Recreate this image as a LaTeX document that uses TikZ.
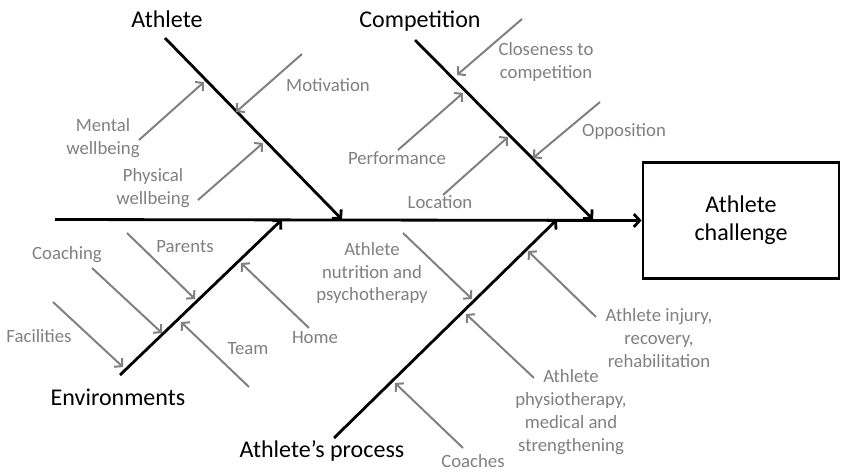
\documentclass[tikz,border=0pt]{standalone}
\usepackage{fontspec}
\setmainfont{Carlito}
\usetikzlibrary{arrows.meta, positioning}
\definecolor{causegray}{RGB}{128, 128, 128}

\begin{document}
\begin{tikzpicture}[x=0.03cm, y=-0.03cm,
                bone/.style={line width=2.4pt, -{Straight Barb[length=5pt, width=11pt]}},
                cause/.style={draw=causegray, line width=1.7pt, -{Straight Barb[length=4.5pt, width=10pt]}},
                category/.style={font=\fontsize{20.5}{24}\selectfont, inner sep=0pt},
                factor/.style={font=\fontsize{16}{19.6}\selectfont, text=causegray, align=center, inner sep=0pt},
                effect/.style={rectangle, draw, line width=2.4pt, minimum width=5.88cm, minimum height=3.5cm, align=center, font=\fontsize{20.5}{24}\selectfont}
            ]
                \useasboundingbox (0, 0) rectangle (841, 472);

                % head of the fish
                \node[effect] (problem) at (741, 220.5) {Athlete\\challenge};
                \coordinate (tail) at (55, 219.5);
                \draw[bone] (tail) -- (problem.west);

                % main bones
                \coordinate (athS) at (165, 38);
                \coordinate (athE) at (342, 219.5);
                \coordinate (comS) at (415, 40);
                \coordinate (comE) at (593, 219.5);
                \coordinate (envS) at (120, 375);
                \coordinate (envE) at (282, 219.5);
                \coordinate (proS) at (334, 438);
                \coordinate (proE) at (557, 219.5);
                \draw[bone] (athS) -- (athE);
                \draw[bone] (comS) -- (comE);
                \draw[bone] (envS) -- (envE);
                \draw[bone] (proS) -- (proE);

                \node[category] (ath) at (167, 19) {Athlete};
                \node[category] (com) at (420, 21) {Competition};
                \node[category] (env) at (118, 397) {Environments};
                \node[category] (pro) at (322, 451) {Athlete’s process};

                % Athlete
                \node[factor] (mental) at (103, 138) {Mental\\wellbeing};
                \node[factor] (motiv) at (328, 85) {Motivation};
                \node[factor] (phys) at (153, 188) {Physical\\wellbeing};
                \coordinate (mentalA) at (139, 140);
                \coordinate (mentalB) at (204, 82);
                \coordinate (motivA) at (302, 54);
                \coordinate (motivB) at (236, 112);
                \coordinate (physA) at (198, 200);
                \coordinate (physB) at (263, 143);
                \draw[cause] (mentalA) -- (mentalB);
                \draw[cause] (motivA) -- (motivB);
                \draw[cause] (physA) -- (physB);

                % Competition
                \node[factor] (close) at (546, 62) {Closeness to\\competition};
                \node[factor] (perf) at (397, 158) {Performance};
                \node[factor] (oppo) at (624, 132) {Opposition};
                \node[factor] (loc) at (440, 202) {Location};
                \coordinate (closeA) at (522, 19);
                \coordinate (closeB) at (457, 75);
                \coordinate (perfA) at (398, 150);
                \coordinate (perfB) at (463, 93);
                \coordinate (oppoA) at (600, 102);
                \coordinate (oppoB) at (533, 158);
                \coordinate (locA) at (443, 195);
                \coordinate (locB) at (508, 137);
                \draw[cause] (closeA) -- (closeB);
                \draw[cause] (perfA) -- (perfB);
                \draw[cause] (oppoA) -- (oppoB);
                \draw[cause] (locA) -- (locB);

                % Environments
                \node[factor] (parents) at (185, 247) {Parents};
                \node[factor] (coaching) at (67, 255) {Coaching};
                \node[factor] (facil) at (39, 336) {Facilities};
                \node[factor] (home) at (315, 338) {Home};
                \node[factor] (team) at (248, 349) {Team};
                \coordinate (parentsA) at (127, 233);
                \coordinate (parentsB) at (195, 299);
                \coordinate (coachingA) at (92, 268);
                \coordinate (coachingB) at (162, 333);
                \coordinate (facilA) at (53, 302);
                \coordinate (facilB) at (123, 367);
                \coordinate (homeA) at (309, 328);
                \coordinate (homeB) at (241, 263);
                \coordinate (teamA) at (249, 387);
                \coordinate (teamB) at (181, 322);
                \draw[cause] (parentsA) -- (parentsB);
                \draw[cause] (coachingA) -- (coachingB);
                \draw[cause] (facilA) -- (facilB);
                \draw[cause] (homeA) -- (homeB);
                \draw[cause] (teamA) -- (teamB);

                % Athlete's process
                \node[factor] (nutri) at (372, 273) {Athlete\\nutrition and\\psychotherapy};
                \node[factor] (injury) at (659, 338) {Athlete injury,\\recovery,\\rehabilitation};
                \node[factor] (physio) at (571, 412) {Athlete\\physiotherapy,\\medical and\\strengthening};
                \node[factor] (coaches) at (473, 461) {Coaches};
                \coordinate (nutriA) at (403, 233);
                \coordinate (nutriB) at (472, 299);
                \coordinate (injuryA) at (596, 317);
                \coordinate (injuryB) at (528, 251);
                \coordinate (physioA) at (534, 378);
                \coordinate (physioB) at (466, 314);
                \coordinate (coachesA) at (463, 448);
                \coordinate (coachesB) at (395, 383);
                \draw[cause] (nutriA) -- (nutriB);
                \draw[cause] (injuryA) -- (injuryB);
                \draw[cause] (physioA) -- (physioB);
                \draw[cause] (coachesA) -- (coachesB);
            \end{tikzpicture}
\end{document}
